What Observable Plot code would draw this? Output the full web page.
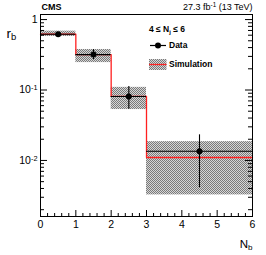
<!DOCTYPE html>
<html>
<head>
<meta charset="utf-8">
<script src="https://cdn.jsdelivr.net/npm/d3@7"></script>
<script src="https://cdn.jsdelivr.net/npm/@observablehq/plot@0.6"></script>
<style>
  html, body { margin: 0; padding: 0; background: #fff; }
  svg { font-family: "Liberation Sans", Arial, Helvetica, sans-serif; }
</style>
</head>
<body>
<div id="chart"></div>
<script>
// ---- data ----
const binLo = [0, 1, 2, 3];
const binHi = [1, 2, 3, 6];
const dataX = [0.5, 1.5, 2.5, 4.5];
const dataY = [0.62, 0.318, 0.081, 0.0135];
const dataErrLo = [0.60, 0.27, 0.0533, 0.0041];
const dataErrHi = [0.645, 0.375, 0.112, 0.0231];
const simY = [0.62, 0.318, 0.081, 0.011];
const simLo = [0.575, 0.245, 0.0528, 0.00324];
const simHi = [0.685, 0.376, 0.109, 0.0185];

const xMajor = [0, 1, 2, 3, 4, 5, 6];
const xMajorLabels = ["0", "1", "2", "3", "4", "5", "6"];
const yMajor = [1, 0.1, 0.01];
const yMajorLabels = ["1", "10^{-1}", "10^{-2}"];

const legendTitle = "4 \u2264 N_{j} \u2264 6";
const legendLabels = ["Data", "Simulation"];
const yLabel = "r_{b}";
const xLabel = "N_{b}";
const expLabel = "CMS";
const lumiLabel = "27.3 fb^{-1} (13 TeV)";

// ---- layout ----
const W = 266, H = 255;
const mL = 40, mR = 14, mT = 14, mB = 39;
const fw = W - mL - mR, fh = H - mT - mB;
const yDomain = [0.0016, 1.18];
const font = '"Liberation Sans", Arial, Helvetica, sans-serif';

const xMinor = d3.range(0, 6.001, 0.2).filter(v => Math.abs(v - Math.round(v)) > 1e-6);
const yMinor = [];
for (const k of [-3, -2, -1, 0]) for (let m = 2; m <= 9; m++) {
  const v = m * Math.pow(10, k);
  if (v > yDomain[0] && v < yDomain[1]) yMinor.push(v);
}

const bins = binLo.map((lo, i) => ({
  lo, hi: binHi[i], x: dataX[i], y: dataY[i], eLo: dataErrLo[i], eHi: dataErrHi[i],
  sim: simY[i], sLo: simLo[i], sHi: simHi[i]
}));
const simSteps = binLo.map((x, i) => ({x, y: simY[i]})).concat([{x: binHi[binHi.length - 1], y: simY[simY.length - 1]}]);

function legend(index, scales, values, dims) {
  const g = d3.create("svg:g").attr("font-family", font).attr("text-anchor", "start");
  const x0 = dims.marginLeft + 109;
  const yT = dims.marginTop + 15;
  g.append("text").attr("x", x0).attr("y", yT).attr("dy", "0.35em")
    .attr("font-size", 8.5).attr("font-weight", "bold").text(legendTitle);
  // Data entry
  const yD = dims.marginTop + 31.5;
  g.append("line").attr("x1", x0 + 1).attr("x2", x0 + 17).attr("y1", yD).attr("y2", yD)
    .attr("stroke", "black").attr("stroke-width", 1.2);
  g.append("circle").attr("cx", x0 + 9).attr("cy", yD).attr("r", 3).attr("fill", "black");
  g.append("text").attr("x", x0 + 20).attr("y", yD).attr("dy", "0.35em")
    .attr("font-size", 8.5).attr("font-weight", "bold").text(legendLabels[0]);
  // Simulation entry
  const yS = dims.marginTop + 50.5;
  g.append("rect").attr("x", x0).attr("y", yS - 5.5).attr("width", 17.5).attr("height", 11)
    .attr("fill", "url(#hatch)");
  g.append("line").attr("x1", x0).attr("x2", x0 + 17.5).attr("y1", yS).attr("y2", yS)
    .attr("stroke", "#ff2020").attr("stroke-width", 1.3);
  g.append("text").attr("x", x0 + 20).attr("y", yS).attr("dy", "0.35em")
    .attr("font-size", 8.5).attr("font-weight", "bold").text(legendLabels[1]);
  return g.node();
}

const svg = Plot.plot({
  width: W, height: H,
  marginLeft: mL, marginRight: mR, marginTop: mT, marginBottom: mB,
  style: {fontFamily: font, background: "white", color: "black"},
  x: {domain: [0, 6], axis: null},
  y: {type: "log", domain: yDomain, axis: null},
  marks: [
    Plot.rect(bins, {x1: "lo", x2: "hi", y1: "sLo", y2: "sHi", fill: "url(#hatch)"}),
    Plot.line(simSteps, {x: "x", y: "y", curve: "step-after", stroke: "#ff2020", strokeWidth: 1.3}),
    Plot.ruleY(bins, {y: "y", x1: "lo", x2: "hi", stroke: "black", strokeWidth: 1.1}),
    Plot.ruleX(bins, {x: "x", y1: "eLo", y2: "eHi", stroke: "black", strokeWidth: 1.1}),
    Plot.dot(bins, {x: "x", y: "y", r: 3, fill: "black", stroke: null}),
    // ticks (inside)
    Plot.tickY(yMajor, {y: d => d, insetRight: fw - 7, stroke: "black"}),
    Plot.tickY(yMinor, {y: d => d, insetRight: fw - 4, stroke: "black"}),
    Plot.tickY(yMajor, {y: d => d, insetLeft: fw - 7, stroke: "black"}),
    Plot.tickY(yMinor, {y: d => d, insetLeft: fw - 4, stroke: "black"}),
    Plot.tickX(xMajor, {x: d => d, insetTop: fh - 6, stroke: "black"}),
    Plot.tickX(xMinor, {x: d => d, insetTop: fh - 3, stroke: "black"}),
    Plot.frame({stroke: "black", strokeWidth: 1}),
    // tick labels
    Plot.axisY({ticks: yMajor, tickSize: 0, tickPadding: 3, fontSize: 10.5,
      tickFormat: d => yMajorLabels[yMajor.indexOf(d)], label: null}),
    Plot.axisX({ticks: xMajor, tickSize: 0, tickPadding: 4, fontSize: 10.5,
      tickFormat: d => xMajorLabels[xMajor.indexOf(d)], label: null}),
    // axis titles and header
    Plot.text([yLabel], {frameAnchor: "top-left", text: d => d, dx: 6 - mL, dy: 23,
      textAnchor: "start", lineAnchor: "bottom", fontSize: 13.5}),
    Plot.text([xLabel], {frameAnchor: "bottom-right", text: d => d, dx: 0, dy: 31,
      textAnchor: "end", lineAnchor: "bottom", fontSize: 11.5}),
    Plot.text([expLabel], {frameAnchor: "top-left", text: d => d, dx: 1, dy: -4.5,
      textAnchor: "start", lineAnchor: "bottom", fontSize: 9, fontWeight: "bold"}),
    Plot.text([lumiLabel], {frameAnchor: "top-right", text: d => d, dx: 0, dy: -4.5,
      textAnchor: "end", lineAnchor: "bottom", fontSize: 9}),
    legend
  ]
});

// hatch pattern
const ns = "http://www.w3.org/2000/svg";
const defs = document.createElementNS(ns, "defs");
defs.innerHTML = `<pattern id="hatch" patternUnits="userSpaceOnUse" width="2" height="2">
  <rect width="2" height="2" fill="#d6d6d6"/>
  <rect x="0" y="0" width="1" height="1" fill="#7a7a7a"/>
  <rect x="1" y="1" width="1" height="1" fill="#7a7a7a"/>
</pattern>`;
svg.insertBefore(defs, svg.firstChild);

// sub/superscript formatting
svg.querySelectorAll("text").forEach(t => {
  if (t.querySelector("tspan")) {
    t.querySelectorAll("tspan").forEach(s => fmt(s));
  } else fmt(t);
});
function fmt(el) {
  const s = el.textContent;
  if (!/[_^]\{/.test(s)) return;
  el.textContent = "";
  const re = /([_^])\{([^}]*)\}/g;
  let last = 0, m;
  while ((m = re.exec(s))) {
    if (m.index > last) {
      const a = document.createElementNS(ns, "tspan"); a.textContent = s.slice(last, m.index); el.appendChild(a);
    }
    const b = document.createElementNS(ns, "tspan");
    b.setAttribute("font-size", "70%");
    b.setAttribute("baseline-shift", m[1] === "^" ? "45%" : "-25%");
    b.textContent = m[2];
    el.appendChild(b);
    last = re.lastIndex;
  }
  if (last < s.length) {
    const a = document.createElementNS(ns, "tspan"); a.textContent = s.slice(last); el.appendChild(a);
  }
}

document.getElementById("chart").appendChild(svg);
</script>
</body>
</html>
